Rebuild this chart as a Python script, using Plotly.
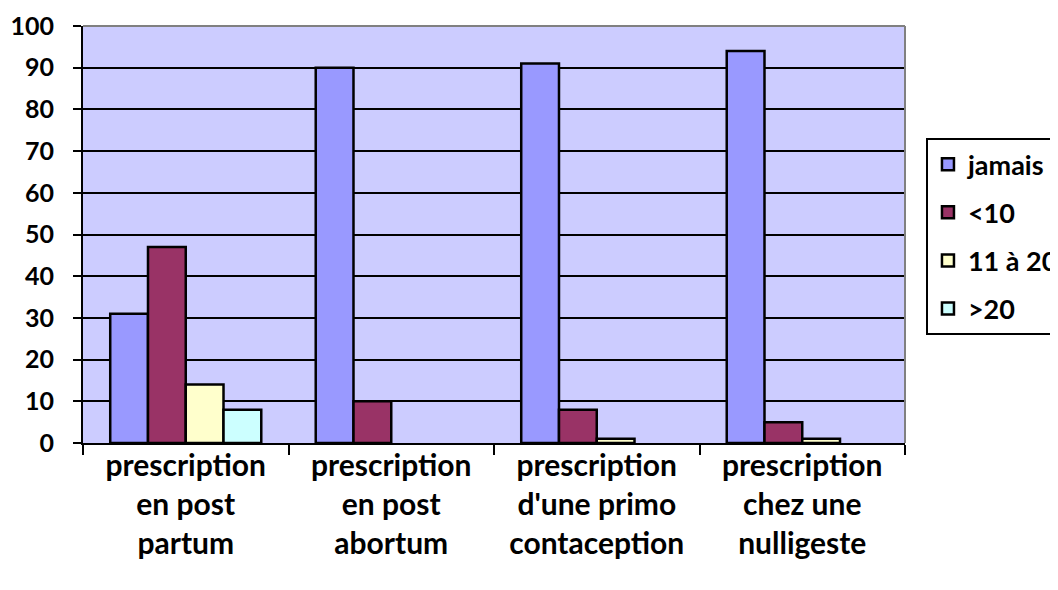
import plotly.graph_objects as go

categories = ["prescription<br>en post<br>partum", "prescription<br>en post<br>abortum",
              "prescription<br>d'une primo<br>contaception", "prescription<br>chez une<br>nulligeste"]
series_names = ["jamais", "<10", "11 à 20", ">20"]
jamais = [31, 90, 91, 94]
moins10 = [47, 10, 8, 5]
de11a20 = [14, 0, 1, 1]
plus20 = [8, 0, 0, 0]
colors = ["#9999FF", "#993366", "#FFFFCC", "#CCFFFF"]

FONT = "Lato"
fig = go.Figure()
for i, (name, vals) in enumerate(zip(series_names, [jamais, moins10, de11a20, plus20])):
    widths = [2.5 if v > 0 else 0 for v in vals]
    fig.add_trace(go.Bar(x=categories, y=vals, name=name, legendgroup=str(i),
                         marker=dict(color=colors[i], line=dict(color="black", width=widths))))

fig.update_layout(
    width=1058, height=590,
    margin=dict(l=75, r=161, t=18, b=155, autoexpand=False),
    paper_bgcolor="white", plot_bgcolor="#CCCCFF",
    barmode="group", bargap=0.265, bargroupgap=0,
    font=dict(family=FONT, color="black", size=22),
    showlegend=True,
    legend=dict(x=1.0255, xanchor="left", y=0.731, yanchor="top",
                bordercolor="black", borderwidth=2, bgcolor="white",
                font=dict(family=FONT, size=27, weight="bold"),
                tracegroupgap=10, itemwidth=30),
    xaxis=dict(showline=True, linecolor="black", linewidth=2, ticks="outside",
               tickson="boundaries", ticklen=10, tickwidth=2, tickcolor="black",
               tickfont=dict(family=FONT, size=30, weight="bold"), showgrid=False,
               automargin=False, ticklabelstandoff=-5),
    yaxis=dict(range=[0, 100], dtick=10, showline=True, linecolor="black", linewidth=2,
               ticks="outside", ticklen=8, tickwidth=2, tickcolor="black",
               showgrid=True, gridcolor="black", gridwidth=2, zeroline=False,
               tickfont=dict(family=FONT, size=25, weight="bold"), automargin=False,
               ticklabelstandoff=14),
)
fig.add_shape(type="line", xref="paper", yref="paper", x0=0, x1=1, y0=1, y1=1,
              line=dict(color="#808080", width=2))
fig.add_shape(type="line", xref="paper", yref="paper", x0=1, x1=1, y0=0, y1=1,
              line=dict(color="#808080", width=2))
fig.write_html("out.html")
